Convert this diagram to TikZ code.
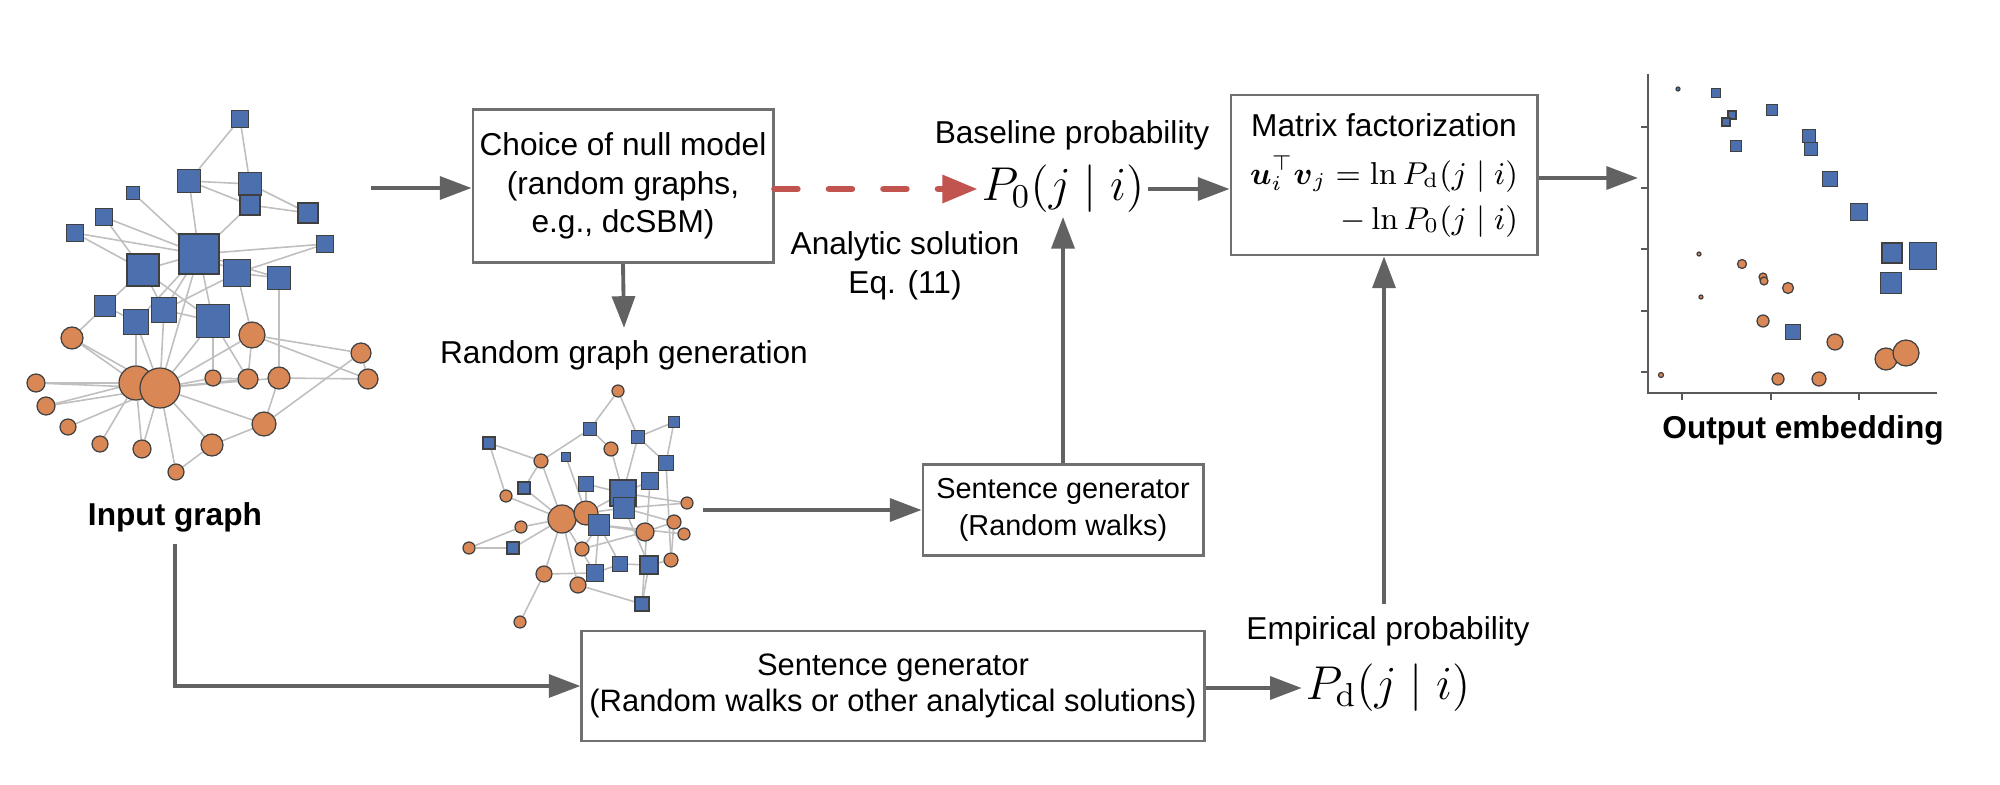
\RequirePackage{fix-cm}
\documentclass[tikz,border=0pt]{standalone}
\usepackage{amsmath}
\usepackage[no-math]{fontspec}
\setmainfont{Liberation Sans}
\usetikzlibrary{arrows.meta,backgrounds,positioning}

\definecolor{nodeblue}{RGB}{76,112,174}
\definecolor{nodeorange}{RGB}{218,135,86}
\definecolor{arrowgray}{RGB}{98,98,98}
\definecolor{boxgray}{RGB}{112,112,112}
\definecolor{dashred}{RGB}{194,84,80}

\tikzset{
  sq/.style={rectangle, fill=nodeblue, draw=black!75, line width=0.35pt, inner sep=0pt},
  ci/.style={circle, fill=nodeorange, draw=black!75, line width=0.35pt, inner sep=0pt},
  edge/.style={draw=black!25, line width=0.45pt},
  box/.style={draw=boxgray, line width=0.8pt, align=center, inner sep=1pt},
  flow/.style={draw=arrowgray, line width=1.1pt, -{Triangle[length=9pt,width=6.5pt]}},
  nullflow/.style={draw=dashred, line width=1.9pt, dash pattern=on 6.5pt off 9pt,
    line cap=round, -{Triangle[length=10pt,width=7.6pt]}},
  axis/.style={draw=black!65, line width=0.7pt},
  bigmath/.style={font=\fontsize{13.5}{16}\selectfont, inner sep=1pt},
  title/.style={font=\bfseries\fontsize{9}{11}\selectfont},
}

\begin{document}
\begin{tikzpicture}[x=0.01cm, y=-0.01cm, font=\fontsize{9}{11}\selectfont]
  \useasboundingbox (0,0) rectangle (2000,785);

  % input graph
  \foreach \n/\x/\y/\sz in {a1/240/119/17, a2/189/181/23, a3/250/184/23, a4/250/205/20,
      a5/133/193/13, a6/104/217/17, a7/75/233/17, a8/308/213/20, a9/325/244/17,
      a10/199/254/40, a11/143/270/32, a12/237/273/27, a13/279/278/23, a14/105/306/21,
      a15/136/322/25, a16/164/310/25, a17/213/321/33}
    \node[sq, minimum size=\sz*0.01cm] (\n) at (\x,\y) {};
  \foreach \n/\x/\y/\rad in {b1/72/338/11, b2/252/335/13, b3/136/383/17, b4/160/388/20,
      b5/36/383/9, b6/46/406/9, b7/68/427/8, b8/100/444/8, b9/142/449/9, b10/176/472/8,
      b11/212/445/11, b12/264/424/12, b13/213/378/8, b14/248/379/10, b15/279/378/11,
      b16/361/353/10, b17/368/379/10}
    \node[ci, minimum size=2*\rad*0.01cm] (\n) at (\x,\y) {};
  \begin{scope}[on background layer]
    \foreach \u/\v in {a1/a2, a1/a3, a2/a3, a2/a4, a2/a10, a3/a8, a4/a8, a4/a10,
        a5/a10, a6/a10, a6/a11, a7/a10, a7/a11, a9/a10, a9/a12, a10/a11, a10/a12,
        a10/a13, a10/a15, a10/a16, a10/a17, a10/b4, a11/a14, a11/a16, a11/a17,
        a12/a13, a12/a16, a12/b2, a14/b1, a14/a15, a15/b3, a15/b4, a16/b4, a16/a17,
        a17/b13, a17/b14, a17/b4, a13/b15, b1/b3, b1/b4, b2/b4, b2/b14, b2/b16, b2/b17,
        b3/b5, b4/b5, b3/b6, b4/b6, b4/b7, b3/b8, b4/b9, b3/b9, b4/b10, b4/b11,
        b4/b12, b4/b13, b4/b14, b4/b15, b15/b17, b15/b12, b12/b16, b11/b12, b10/b11,
        b13/b14, b16/b17}
      \draw[edge] (\u) -- (\v);
  \end{scope}
  \node[title] (iglab) at (175,517) {Input graph};
  \coordinate (igout) at (371,188);

  % null model
  \node[box, minimum width=3.0cm, minimum height=1.53cm] (choice) at (623,186)
    {Choice of null model\\(random graphs,\\e.g., dcSBM)};
  \node (rglab) at (624,355) {Random graph generation};

  % random graph
  \foreach \n/\x/\y/\rad in {r1/618/391/6, r2/611/449/7, r3/541/461/7, r4/506/496/6,
      r5/562/519/14, r6/586/513/12, r7/521/527/6, r8/469/548/6, r9/582/549/7,
      r10/645/532/9, r11/687/503/6, r12/674/522/7, r13/684/534/6, r14/671/560/7,
      r15/544/574/8, r16/578/585/8, r17/520/622/6}
    \node[ci, minimum size=2*\rad*0.01cm] (\n) at (\x,\y) {};
  \foreach \n/\x/\y/\sz in {q1/590/429/13, q2/489/443/12, q3/566/457/9, q4/638/437/13,
      q5/674/422/11, q6/666/463/15, q7/524/488/12, q8/586/484/15, q9/650/481/17,
      q10/623/493/26, q11/624/508/21, q12/599/525/21, q13/513/548/12, q14/620/564/15,
      q15/649/565/18, q16/595/573/17, q17/642/604/14}
    \node[sq, minimum size=\sz*0.01cm] (\n) at (\x,\y) {};
  \begin{scope}[on background layer]
    \foreach \u/\v in {r1/q1, r1/q4, q1/r3, q1/r2, q2/r3, q2/r4, r3/q7, r3/r5, q3/r6,
        r2/q10, q4/q5, q4/q10, q4/q6, q5/q6, r4/r5, q7/r5, r7/r5, r8/q13, r8/r7,
        q13/r5, r5/r15, r15/r17, r5/r6, r5/q16, r5/r16, r6/q10, r6/q11, q8/q10, q8/r6,
        q10/r11, q11/r12, q11/q15, q12/r10, r10/r9, q12/q16, q12/q14, r16/q17,
        q17/q15, q15/r14, r14/q6, q16/q14, q14/q15, r12/r14, r15/q16, q9/q17, q9/q10,
        r10/r12, q12/r13, r6/q12, r9/q12, q11/r11, q6/q9}
      \draw[edge] (\u) -- (\v);
  \end{scope}
  \coordinate (rgout) at (703,510);

  \node[box, font=\fontsize{8.2}{10.4}\selectfont, minimum width=2.8cm, minimum height=0.91cm]
    (sent) at (1063,510) {Sentence generator\\(Random walks)};

  % baseline
  \node[bigmath] (p0) at (1063,189) {$P_0(j\mid i)$};
  \node (base) at (1072,135) {Baseline probability};
  \node[align=center] (analytic) at (905,266) {Analytic solution\\Eq. (11)};

  % factorization
  \node[box, minimum width=3.06cm, minimum height=1.6cm] (mf) at (1384,175)
    {\begin{tabular}{@{}r@{}}
      \multicolumn{1}{@{}c@{}}{Matrix factorization}\\[2.3pt]
      $\boldsymbol{u}_i^{\top}\boldsymbol{v}_j=\ln P_{\mathrm{d}}(j\mid i)$\\[1.8pt]
      $-\ln P_0(j\mid i)$
    \end{tabular}};
  \coordinate (embin) at (1638,178);

  % empirical
  \node[box, font=\fontsize{8.8}{10.4}\selectfont, minimum width=6.22cm, minimum height=1.1cm]
    (sgen) at (893,686) {Sentence generator\\(Random walks or other analytical solutions)};
  \node (emp) at (1388,631) {Empirical probability};
  \node[bigmath] (pd) at (1388,688) {$P_{\mathrm{d}}(j\mid i)$};

  % arrows
  \draw[flow] (igout) -- (igout -| choice.west);
  \draw[nullflow] (choice.east |- p0) -- (p0.west);
  \draw[flow] (p0.east) -- (mf.west |- p0.east);
  \draw[flow] (mf.east |- embin) -- (embin);
  \draw[flow] (choice.south) -- (rglab.north);
  \draw[flow] (rgout) -- (rgout -| sent.west);
  \draw[flow] (sent.north) -- (p0.south);
  \draw[flow] (iglab.south) |- (sgen.west);
  \draw[flow] (sgen.east |- pd) -- (pd.west);
  \draw[flow] (emp.north -| mf.south) -- (mf.south);

  % output embedding
  \draw[axis] (1648,74) -- (1648,393) -- (1937,393);
  \foreach \ty in {127,188,249,311,372}
    \draw[axis] (1641,\ty) -- (1648,\ty);
  \foreach \tx in {1682,1771,1859}
    \draw[axis] (\tx,393) -- (\tx,400);
  \foreach \x/\y/\rad [count=\k] in {1699/254/2, 1742/264/4.5, 1763/277/4, 1764/281/4,
      1788/288/5.5, 1701/297/2, 1763/321/6, 1835/342/8, 1886/359/11, 1906/353/13,
      1661/375/2.5, 1778/379/6, 1819/379/7}
    \node[ci, minimum size=2*\rad*0.01cm] (f\k) at (\x,\y) {};
  \node[ci, fill=nodeblue, minimum size=0.04cm] (f0) at (1678,89) {};
  \foreach \x/\y/\sz [count=\k] in {1716/93/9, 1732/115/8, 1726/122/8, 1736/146/11,
      1772/110/11, 1809/136/13, 1811/149/13, 1830/179/15, 1859/212/17, 1892/253/20,
      1923/256/27, 1891/283/21, 1793/332/15}
    \node[sq, minimum size=\sz*0.01cm] (e\k) at (\x,\y) {};
  \node[title] (outlab) at (1803,430) {Output embedding};
\end{tikzpicture}
\end{document}
